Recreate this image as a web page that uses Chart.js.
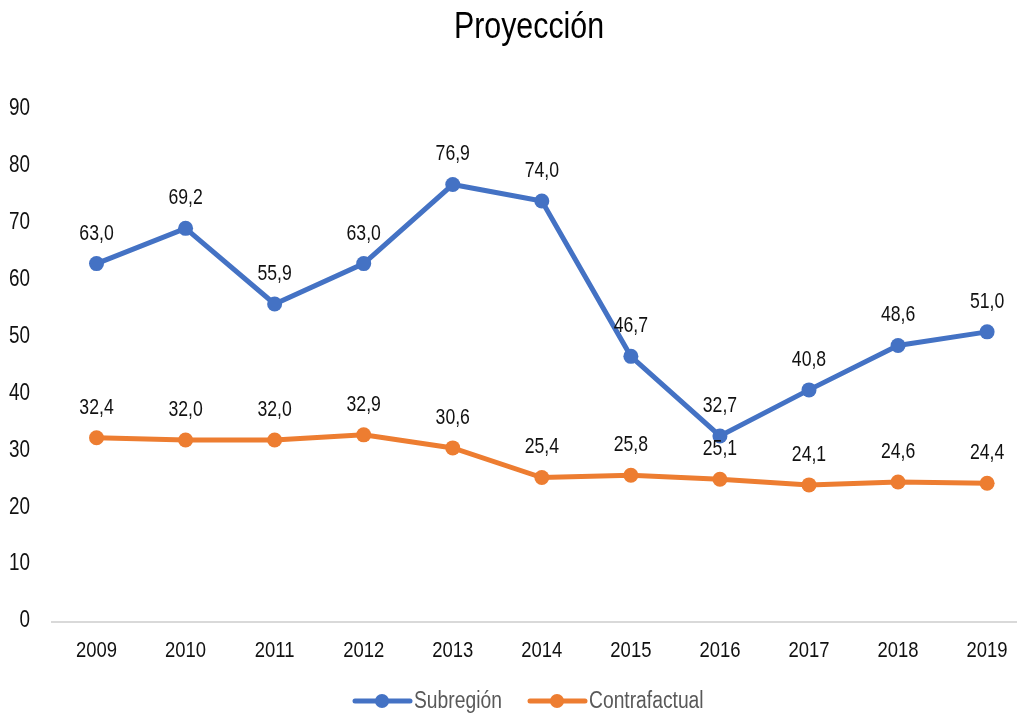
<!DOCTYPE html>
<html>
<head>
<meta charset="utf-8">
<script src="https://cdn.jsdelivr.net/npm/chart.js@4"></script>
<style>
html,body{margin:0;padding:0;background:#fff;overflow:hidden;}
#wrap{width:1024px;height:716px;position:relative;}
</style>
</head>
<body>
<div id="wrap"><canvas id="c" width="1024" height="716"></canvas></div>
<script>
const years = [2009, 2010, 2011, 2012, 2013, 2014, 2015, 2016, 2017, 2018, 2019];
const subregion = [63.0, 69.2, 55.9, 63.0, 76.9, 74.0, 46.7, 32.7, 40.8, 48.6, 51.0];
const contrafactual = [32.4, 32.0, 32.0, 32.9, 30.6, 25.4, 25.8, 25.1, 24.1, 24.6, 24.4];
const yTicks = [0, 10, 20, 30, 40, 50, 60, 70, 80, 90];
const seriesNames = ['Subregión', 'Contrafactual'];
const titleText = 'Proyección';

const FONT = "'Liberation Sans', Arial, sans-serif";
const NARROW = 0.82;
const BLUE = '#4472C4';
const ORANGE = '#ED7D31';

function fmt(v){ return v.toFixed(1).replace('.', ','); }

// draw text with a condensed (Arial Narrow-like) look
function narrowText(ctx, text, x, y, size, color, align){
  ctx.save();
  ctx.font = size + 'px ' + FONT;
  ctx.fillStyle = color;
  ctx.textBaseline = 'middle';
  ctx.textAlign = align || 'center';
  ctx.translate(x, y);
  ctx.scale(NARROW, 1);
  ctx.fillText(text, 0, 0);
  ctx.restore();
}

const overlay = {
  id: 'overlay',
  afterDraw(chart){
    const ctx = chart.ctx;
    const xs = chart.scales.x, ys = chart.scales.y;
    // axis tick labels
    years.forEach(v => narrowText(ctx, String(v), xs.getPixelForValue(v), 651, 22.5, '#111', 'center'));
    yTicks.forEach(v => narrowText(ctx, String(v), 30, ys.getPixelForValue(v) - 1, 23, '#111', 'right'));
    // data labels
    chart.data.datasets.forEach((ds, i) => {
      const meta = chart.getDatasetMeta(i);
      meta.data.forEach((pt, j) => {
        narrowText(ctx, fmt(ds.data[j].y), pt.x, pt.y - 30, 21.5, '#111', 'center');
      });
    });
    // title
    narrowText(ctx, titleText, 529, 28, 37, '#000', 'center');
    // legend
    const items = [
      {name: seriesNames[0], color: BLUE, x: 355},
      {name: seriesNames[1], color: ORANGE, x: 530}
    ];
    const ly = 701;
    ctx.save();
    items.forEach(it => {
      ctx.strokeStyle = it.color;
      ctx.lineWidth = 5;
      ctx.lineCap = 'round';
      ctx.beginPath();
      ctx.moveTo(it.x, ly);
      ctx.lineTo(it.x + 55, ly);
      ctx.stroke();
      ctx.fillStyle = it.color;
      ctx.beginPath();
      ctx.arc(it.x + 27, ly, 7, 0, Math.PI * 2);
      ctx.fill();
      narrowText(ctx, it.name, it.x + 59, ly + 1, 23.5, '#595959', 'left');
    });
    ctx.restore();
  }
};

new Chart(document.getElementById('c'), {
  type: 'line',
  data: {
    datasets: [
      {
        label: seriesNames[0],
        data: years.map((y, i) => ({x: y, y: subregion[i]})),
        borderColor: BLUE, backgroundColor: BLUE,
        borderWidth: 5, pointRadius: 7.5, pointHoverRadius: 7.5,
        pointBackgroundColor: BLUE, pointBorderColor: BLUE, pointBorderWidth: 0,
        tension: 0
      },
      {
        label: seriesNames[1],
        data: years.map((y, i) => ({x: y, y: contrafactual[i]})),
        borderColor: ORANGE, backgroundColor: ORANGE,
        borderWidth: 5, pointRadius: 7.5, pointHoverRadius: 7.5,
        pointBackgroundColor: ORANGE, pointBorderColor: ORANGE, pointBorderWidth: 0,
        tension: 0
      }
    ]
  },
  options: {
    responsive: false,
    animation: false,
    events: [],
    layout: { padding: { top: 110, bottom: 54, left: 0, right: 0 } },
    plugins: { legend: { display: false }, title: { display: false }, tooltip: { enabled: false } },
    scales: {
      x: {
        type: 'linear',
        min: years[0] - 0.5,
        max: years[years.length - 1] + 0.33,
        afterBuildTicks(scale){ scale.ticks = years.map(v => ({value: v})); },
        afterFit(scale){ scale.height = 40; },
        grid: { display: false, drawTicks: false },
        border: { display: true, color: '#d9d9d9', width: 2 },
        ticks: { display: false }
      },
      y: {
        min: yTicks[0],
        max: yTicks[yTicks.length - 1],
        afterBuildTicks(scale){ scale.ticks = yTicks.map(v => ({value: v})); },
        afterFit(scale){ scale.width = 52; },
        grid: { display: false, drawTicks: false },
        border: { display: false },
        ticks: { display: false }
      }
    }
  },
  plugins: [overlay]
});
</script>
</body>
</html>
